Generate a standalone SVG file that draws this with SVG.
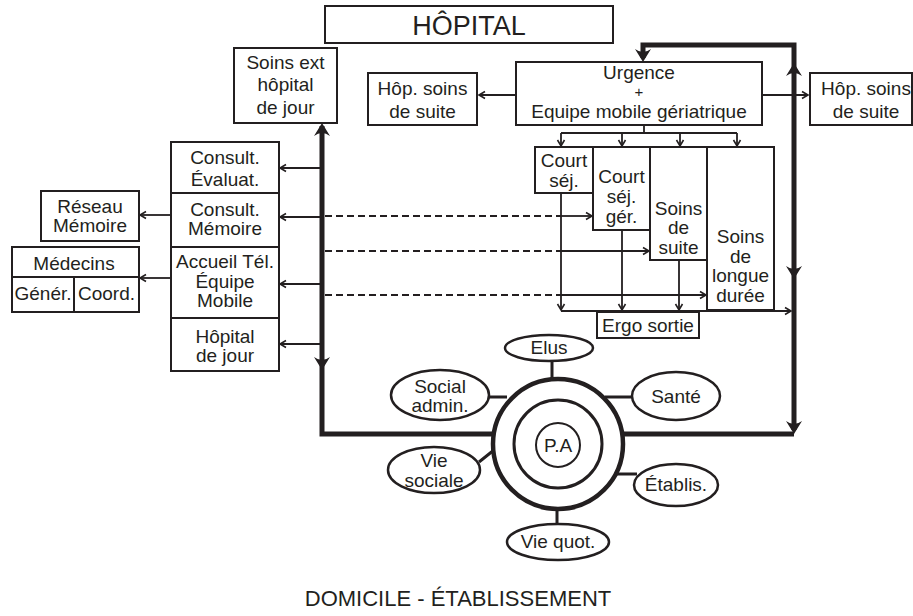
<svg xmlns="http://www.w3.org/2000/svg" xmlns:xlink="http://www.w3.org/1999/xlink" width="913" height="616" viewBox="0 0 913 616">
<style>
.b{fill:#fff;stroke:#231f20;stroke-width:2}
.t{font-family:"Liberation Sans",Arial,Helvetica,sans-serif;font-size:19px;fill:#231f20;text-anchor:middle}
.l{fill:none;stroke:#231f20;stroke-width:1.8}
.d{fill:none;stroke:#231f20;stroke-width:1.8;stroke-dasharray:7 4}
.k{fill:none;stroke:#231f20;stroke-width:5}
.s{fill:none;stroke:#231f20;stroke-width:3}
.ah{fill:#231f20}
</style>
<defs>
<marker id="a" markerWidth="10" markerHeight="10" refX="8" refY="5" orient="auto" markerUnits="userSpaceOnUse"><path d="M2,1.5 L8,5 L2,8.5" fill="none" stroke="#231f20" stroke-width="1.6"/></marker>
<path id="ah" d="M0,0 L-8,-13 Q0,-7 8,-13 Z"/>
</defs>
<rect width="913" height="616" fill="#fff"/>

<g id="connectors">
<path class="k" d="M643,58 V45 H794 V430 M794,434 H623 M493,434 H322 V126"/>
<use href="#ah" class="ah" transform="translate(643,62)"/>
<use href="#ah" class="ah" transform="translate(322,123) rotate(180)"/>
<use href="#ah" class="ah" transform="translate(322,370)"/>
<use href="#ah" class="ah" transform="translate(794,63) rotate(180)"/>
<use href="#ah" class="ah" transform="translate(794,279)"/>
<use href="#ah" class="ah" transform="translate(794,434)"/>
<path class="l" d="M516,95 H479" marker-end="url(#a)"/>
<path class="l" d="M762,95 H808" marker-end="url(#a)"/>
<path class="l" d="M644,125 V133 M561,133 H737"/>
<path class="l" d="M561,133 V146" marker-end="url(#a)"/>
<path class="l" d="M622,133 V146" marker-end="url(#a)"/>
<path class="l" d="M680,133 V146" marker-end="url(#a)"/>
<path class="l" d="M737,133 V146" marker-end="url(#a)"/>
<path class="l" d="M561,193 V310" marker-end="url(#a)"/>
<path class="l" d="M622,230 V310" marker-end="url(#a)"/>
<path class="l" d="M679,260 V310" marker-end="url(#a)"/>
<path class="l" d="M561,311 H791" marker-end="url(#a)"/>
<path class="l" d="M320,168 H280" marker-end="url(#a)"/>
<path class="l" d="M320,217 H280" marker-end="url(#a)"/>
<path class="l" d="M320,284 H280" marker-end="url(#a)"/>
<path class="l" d="M320,344 H280" marker-end="url(#a)"/>
<path class="l" d="M171,215 H140" marker-end="url(#a)"/>
<path class="l" d="M171,278 H140" marker-end="url(#a)"/>
<path class="d" d="M325,216 H561 M325,251 H561 M325,295 H561"/>
<path class="l" d="M561,216 H592" marker-end="url(#a)"/>
<path class="l" d="M561,251 H649" marker-end="url(#a)"/>
<path class="l" d="M561,295 H706" marker-end="url(#a)"/>
<path class="s" d="M552,361 V378 M489,397 H507 M605,397 H633 M479,462 L494,450 M609,474 H637 M557,511 V525"/>
</g>

<g id="hopital"><rect class="b" x="325" y="6" width="288" height="37"/><text class="t" x="469" y="35" style="font-size:27px">HÔPITAL</text></g>
<g id="soins-ext"><rect class="b" x="234" y="48" width="103" height="75"/><text class="t" x="285.5" y="69">Soins ext</text><text class="t" x="285.5" y="91">hôpital</text><text class="t" x="285.5" y="114">de jour</text></g>
<g id="hop-suite-l"><rect class="b" x="368" y="73" width="109" height="52"/><text class="t" x="422.5" y="95">Hôp. soins</text><text class="t" x="422.5" y="118">de suite</text></g>
<g id="urgence"><rect class="b" x="516" y="62" width="246" height="63"/><text class="t" x="639" y="79">Urgence</text><text class="t" x="639" y="97" style="font-size:15px">+</text><text class="t" x="639" y="118">Equipe mobile gériatrique</text></g>
<g id="hop-suite-r"><rect class="b" x="810" y="73" width="102" height="52"/><text class="t" x="866" y="95">Hôp. soins</text><text class="t" x="866" y="118">de suite</text></g>

<g id="court-sej"><rect class="b" x="535" y="147" width="58" height="46"/><text class="t" x="564" y="167">Court</text><text class="t" x="564" y="187">séj.</text></g>
<g id="court-sej-ger"><rect class="b" x="593" y="147" width="57" height="83"/><text class="t" x="621.5" y="183">Court</text><text class="t" x="621.5" y="203">séj.</text><text class="t" x="621.5" y="223">gér.</text></g>
<g id="soins-suite"><rect class="b" x="650" y="147" width="57" height="113"/><text class="t" x="678.5" y="215">Soins</text><text class="t" x="678.5" y="234">de</text><text class="t" x="678.5" y="254">suite</text></g>
<g id="soins-longue"><rect class="b" x="707" y="147" width="67" height="163"/><text class="t" x="740.5" y="243">Soins</text><text class="t" x="740.5" y="263">de</text><text class="t" x="740.5" y="282">longue</text><text class="t" x="740.5" y="302">durée</text></g>
<g id="ergo"><rect class="b" x="597" y="312" width="102" height="26"/><text class="t" x="648" y="332">Ergo sortie</text></g>

<g id="consult-eval"><rect class="b" x="171" y="142" width="108" height="51"/><text class="t" x="225" y="164">Consult.</text><text class="t" x="225" y="186">Évaluat.</text></g>
<g id="consult-mem"><rect class="b" x="171" y="193" width="108" height="54"/><text class="t" x="225" y="216">Consult.</text><text class="t" x="225" y="235">Mémoire</text></g>
<g id="accueil"><rect class="b" x="171" y="247" width="108" height="71"/><text class="t" x="225" y="268">Accueil Tél.</text><text class="t" x="225" y="288">Équipe</text><text class="t" x="225" y="307">Mobile</text></g>
<g id="hdj"><rect class="b" x="171" y="318" width="108" height="53"/><text class="t" x="225" y="343">Hôpital</text><text class="t" x="225" y="362">de jour</text></g>
<g id="reseau"><rect class="b" x="41" y="191" width="98" height="50"/><text class="t" x="90" y="213">Réseau</text><text class="t" x="90" y="232">Mémoire</text></g>
<g id="medecins"><rect class="b" x="12" y="247" width="127" height="65"/><path class="l" d="M12,277 H139 M74,277 V312" style="stroke-width:2"/><text class="t" x="74" y="270">Médecins</text><text class="t" x="43" y="300">Génér.</text><text class="t" x="106.5" y="300">Coord.</text></g>

<g id="pa">
<circle cx="558" cy="444" r="65" fill="#fff" stroke="#231f20" stroke-width="4.5"/>
<circle cx="558" cy="444" r="44" fill="none" stroke="#231f20" stroke-width="3"/>
<circle cx="558" cy="445" r="22" fill="none" stroke="#231f20" stroke-width="2"/>
<text class="t" x="558" y="452">P.A</text>
</g>
<g id="elus"><ellipse class="b" cx="549" cy="348" rx="44" ry="13" style="stroke-width:2.5"/><text class="t" x="549" y="354">Elus</text></g>
<g id="social"><ellipse class="b" cx="440" cy="395" rx="49" ry="25" style="stroke-width:2.5"/><text class="t" x="440" y="393">Social</text><text class="t" x="440" y="412">admin.</text></g>
<g id="sante"><ellipse class="b" cx="676" cy="396" rx="44" ry="24" style="stroke-width:2.5"/><text class="t" x="676" y="403">Santé</text></g>
<g id="vie-sociale"><ellipse class="b" cx="434" cy="470" rx="46" ry="23" style="stroke-width:2.5"/><text class="t" x="434" y="467">Vie</text><text class="t" x="434" y="487">sociale</text></g>
<g id="etablis"><ellipse class="b" cx="676" cy="485" rx="42" ry="21" style="stroke-width:2.5"/><text class="t" x="676" y="491">Établis.</text></g>
<g id="vie-quot"><ellipse class="b" cx="558" cy="542" rx="51" ry="18" style="stroke-width:2.5"/><text class="t" x="558" y="548">Vie quot.</text></g>

<text class="t" x="458" y="606" style="font-size:22px">DOMICILE - ÉTABLISSEMENT</text>
</svg>
